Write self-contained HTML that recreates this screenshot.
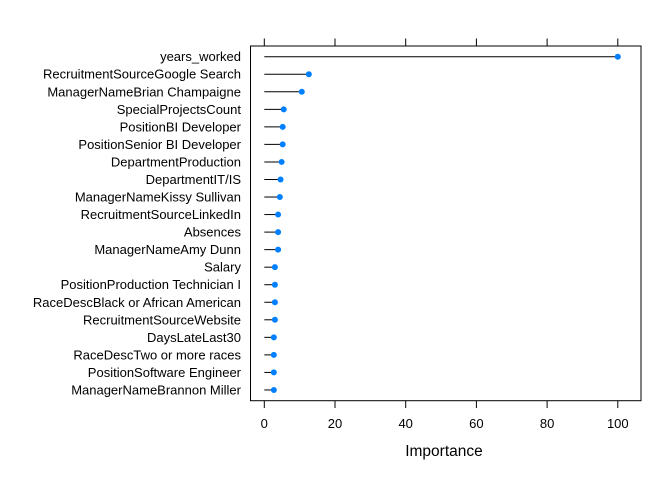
<!DOCTYPE html>
<html><head><meta charset="utf-8"><style>body{margin:0;background:#fff}svg text{font-family:"Liberation Sans",Arial,sans-serif}</style></head>
<body>
<svg id="chart" width="672" height="480" xmlns="http://www.w3.org/2000/svg"></svg>
<script>
const categories=["years_worked","RecruitmentSourceGoogle Search","ManagerNameBrian Champaigne","SpecialProjectsCount","PositionBI Developer","PositionSenior BI Developer","DepartmentProduction","DepartmentIT/IS","ManagerNameKissy Sullivan","RecruitmentSourceLinkedIn","Absences","ManagerNameAmy Dunn","Salary","PositionProduction Technician I","RaceDescBlack or African American","RecruitmentSourceWebsite","DaysLateLast30","RaceDescTwo or more races","PositionSoftware Engineer","ManagerNameBrannon Miller"];
const importance=[100,12.6,10.6,5.5,5.2,5.2,4.9,4.6,4.4,3.9,3.9,3.9,3.0,3.0,3.0,3.0,2.7,2.7,2.7,2.7];
const ticks=[0,20,40,60,80,100];
const svg=document.getElementById('chart');const NS="http://www.w3.org/2000/svg";
function x(v){return 264.3+v*3.535;}
function y(i){return 56.7+i*17.54;}
function mk(t,a,p){const e=document.createElementNS(NS,t);for(const k in a)e.setAttribute(k,a[k]);(p||svg).appendChild(e);return e;}
const box=mk('rect',{x:250.5,y:46,width:390.5,height:354.7,fill:'none',stroke:'#000','stroke-width':1});


ticks.forEach(t=>{
 const a=mk('line',{x1:x(t),x2:x(t),y1:400.7,y2:408,stroke:'#000'});
 
 
 const b=mk('line',{x1:x(t),x2:x(t),y1:38.5,y2:46,stroke:'#000'});
 
 
 const l=mk('text',{x:x(t),y:428,'text-anchor':'middle','font-size':'13'});l.textContent=t;
 
 
});
categories.forEach((c,i)=>{
 const l=mk('text',{x:241,y:y(i)+4.5,'text-anchor':'end','font-size':'13'});l.textContent=c;
 
 
 const s=mk('line',{x1:x(0),x2:x(importance[i]),y1:y(i),y2:y(i),stroke:'#000','stroke-width':1});
 
 
 const d=mk('circle',{cx:x(importance[i]),cy:y(i),r:3,fill:'#0080ff'});
 
 
});
const xt=mk('text',{x:444,y:456,'text-anchor':'middle','font-size':'15.5'});xt.textContent='Importance';


</script>
</body></html>
